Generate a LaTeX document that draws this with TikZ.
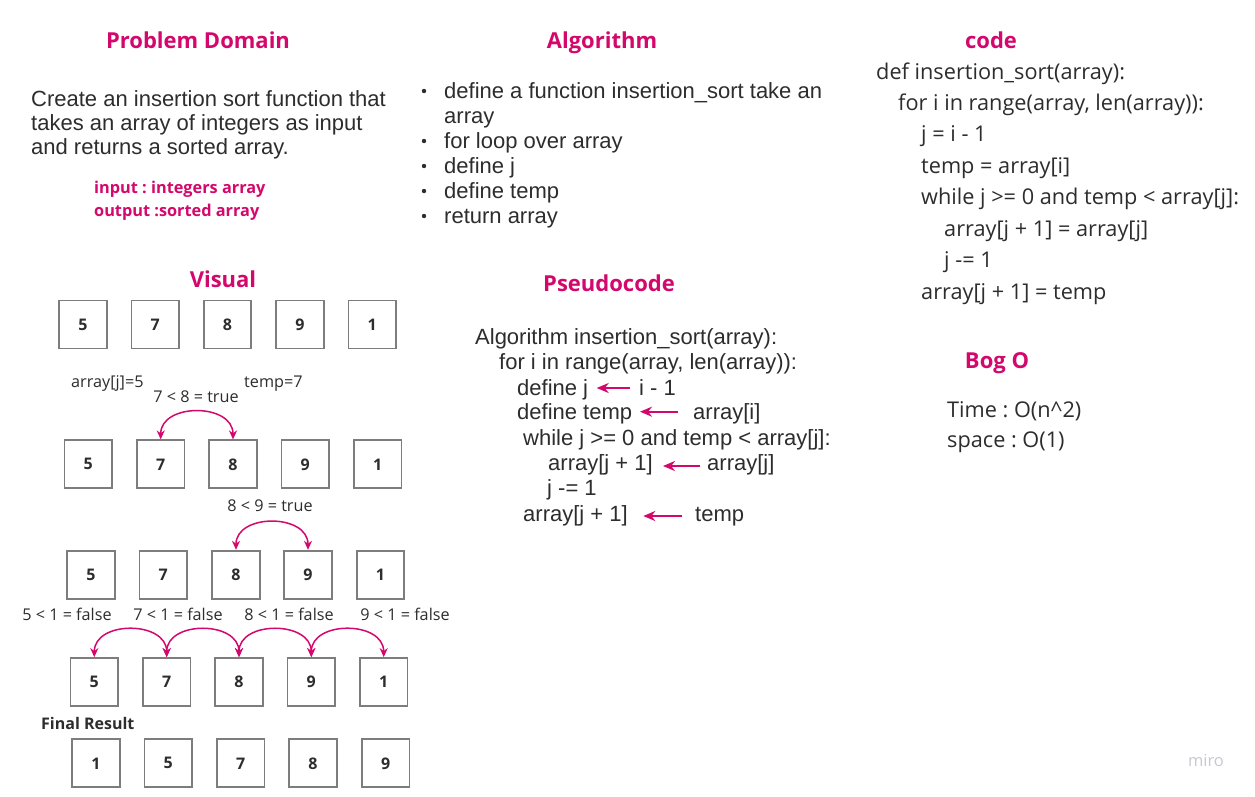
\documentclass[tikz,border=0pt]{standalone}
\usepackage{fontspec}
\setmainfont{Open Sans}
\newfontfamily\arialf{Liberation Sans}
\usetikzlibrary{arrows.meta}
\definecolor{mag}{RGB}{212,8,108}
\definecolor{txt}{RGB}{45,45,45}
\definecolor{boxg}{RGB}{125,125,125}
\definecolor{mirog}{RGB}{200,200,208}
\frenchspacing
\tikzset{
 head/.style={font=\fontsize{22}{26}\selectfont\bfseries, text=mag, inner sep=0, text height=17pt, text depth=3pt},
 subhead/.style={font=\fontsize{16.3}{19}\selectfont\bfseries\frenchspacing, text=mag, inner sep=0, anchor=west, text height=12pt, text depth=2pt},
 atext/.style={font=\arialf\fontsize{22}{26}\selectfont\frenchspacing, text=txt, anchor=west, inner sep=0, text height=16pt, text depth=2pt},
 ctext/.style={font=\fontsize{21.7}{26}\selectfont\frenchspacing, text=txt, anchor=west, inner sep=0, text height=16pt, text depth=2pt},
 vlab/.style={font=\fontsize{16.2}{19}\selectfont, text=txt, inner sep=0, text height=12pt, text depth=2pt},
 cell/.style={draw=boxg, line width=1.8pt, minimum width=47.5pt, minimum height=48pt, inner sep=0, font=\fontsize{16}{19}\selectfont\bfseries, text=txt},
 swaparc/.style={draw=mag, line width=1.5pt, {Stealth[length=9pt,width=8pt]}-{Stealth[length=9pt,width=8pt]}, out=90, in=90, looseness=1.3},
 assign/.style={draw=mag, line width=2pt, -{Stealth[length=12pt,width=10pt]}},
 bul/.style={circle, fill=txt, inner sep=0, minimum size=4.4pt}
}
\begin{document}
\begin{tikzpicture}[x=1pt,y=-1pt]
\useasboundingbox (0,0) rectangle (1255,796);
\fill[white] (0,0) rectangle (1255,796);

% ---------- Problem Domain ----------
\node[head] (hpd) at (198,41) {Problem Domain};
\node[atext] (pd1) at (31,99) {Create an insertion sort function that};
\node[atext] (pd2) at (31,123) {takes an array of integers as input};
\node[atext] (pd3) at (31,147) {and returns a sorted array.};
\node[subhead] (in) at (94,188) {input : integers array};
\node[subhead] (out) at (94,211) {output :sorted array};

% ---------- Algorithm ----------
\node[head] (halg) at (602,41) {Algorithm};
\node[bul] (b1) at (424,91) {};
\node[atext] (a1) at (444,91) {define a function insertion\_sort take an};
\node[atext] (a1b) at (444,116) {array};
\node[bul] (b2) at (424,141) {};
\node[atext] (a2) at (444,141) {for loop over array};
\node[bul] (b3) at (424,166) {};
\node[atext] (a3) at (444,166) {define j};
\node[bul] (b4) at (424,191) {};
\node[atext] (a4) at (444,191) {define temp};
\node[bul] (b5) at (424,216) {};
\node[atext] (a5) at (444,216) {return array};

% ---------- Pseudocode ----------
\node[head] (hps) at (609,284) {Pseudocode};
\node[atext] (p1) at (475,337) {Algorithm insertion\_sort(array):};
\node[atext] (p2) at (499,362) {for i in range(array, len(array)):};
\node[atext] (p3) at (517,388) {define j};
\node[atext] (p3r) at (639,388) {i - 1};
\node[atext] (p4) at (517,412) {define temp};
\node[atext] (p4r) at (693,412) {array[i]};
\node[atext] (p5) at (523,438) {while j >= 0 and temp < array[j]:};
\node[atext] (p6) at (548,463) {array[j + 1]};
\node[atext] (p6r) at (707,463) {array[j]};
\node[atext] (p7) at (547,488) {j -= 1};
\node[atext] (p8) at (523,514) {array[j + 1]};
\node[atext] (p8r) at (695,514) {temp};
\coordinate (t3) at (630,388);   \coordinate (h3) at (596.7,388);
\coordinate (t4) at (678,411.7); \coordinate (h4) at (640,411.7);
\coordinate (t6) at (700,466);   \coordinate (h6) at (663,466);
\coordinate (t8) at (681.7,516); \coordinate (h8) at (643.3,516);
\draw[assign] (t3) -- (h3);
\draw[assign] (t4) -- (h4);
\draw[assign] (t6) -- (h6);
\draw[assign] (t8) -- (h8);

% ---------- code ----------
\node[head] (hcode) at (991,41) {code};
\node[ctext] (c1) at (876,72) {def insertion\_sort(array):};
\node[ctext] (c2) at (898,103) {for i in range(array, len(array)):};
\node[ctext] (c3) at (921,134) {j = i - 1};
\node[ctext] (c4) at (921,166) {temp = array[i]};
\node[ctext] (c5) at (921,197) {while j >= 0 and temp < array[j]:};
\node[ctext] (c6) at (944,229) {array[j + 1] = array[j]};
\node[ctext] (c7) at (944,260) {j -= 1};
\node[ctext] (c8) at (921,292) {array[j + 1] = temp};

% ---------- Big O ----------
\node[head] (hbig) at (997,361) {Bog O};
\node[ctext] (t1) at (947,410) {Time : O(n\textasciicircum 2)};
\node[ctext] (t2) at (947,440) {space : O(1)};

% ---------- Visual ----------
\node[head] (hvis) at (223,280) {Visual};
% row 1
\node[cell] (r1a) at (83,324.5) {5};
\node[cell] (r1b) at (155.3,324.5) {7};
\node[cell] (r1c) at (227.5,324.5) {8};
\node[cell] (r1d) at (300,324.5) {9};
\node[cell] (r1e) at (372.3,324.5) {1};
\node[vlab, anchor=west] (laj) at (71,382) {array[j]=5};
\node[vlab, anchor=west] (ltemp) at (244,382) {temp=7};
\node[vlab] (l78) at (196,397) {7 < 8 = true};
% row 2
\node[cell] (r2a) at (88.2,464.3) {5};
\node[cell] (r2b) at (160.7,464.3) {7};
\node[cell] (r2c) at (233,464.3) {8};
\node[cell] (r2d) at (305.3,464.3) {9};
\node[cell] (r2e) at (377.7,464.3) {1};
\draw[swaparc] (r2b.north) to (r2c.north);
\node[vlab] (l89) at (270,506) {8 < 9 = true};
% row 3
\node[cell] (r3a) at (91,574.7) {5};
\node[cell] (r3b) at (163.3,574.7) {7};
\node[cell] (r3c) at (236,574.7) {8};
\node[cell] (r3d) at (308,574.7) {9};
\node[cell] (r3e) at (380.5,574.7) {1};
\draw[swaparc] (r3c.north) to (r3d.north);
\node[vlab] (l51) at (67,615) {5 < 1 = false};
\node[vlab] (l71) at (178,615) {7 < 1 = false};
\node[vlab] (l81) at (289,615) {8 < 1 = false};
\node[vlab] (l91) at (405,615) {9 < 1 = false};
% row 4
\node[cell] (r4a) at (94.3,682) {5};
\node[cell] (r4b) at (166.7,682) {7};
\node[cell] (r4c) at (239,682) {8};
\node[cell] (r4d) at (311.3,682) {9};
\node[cell] (r4e) at (383.7,682) {1};
\draw[swaparc] (r4a.north) to (r4b.north);
\draw[swaparc] (r4b.north) to (r4c.north);
\draw[swaparc] (r4c.north) to (r4d.north);
\draw[swaparc] (r4d.north) to (r4e.north);
% final
\node[vlab, font=\fontsize{16}{19}\selectfont\bfseries, anchor=west] (lfinal) at (41,724) {Final Result};
\node[cell] (r5a) at (96,763.3) {1};
\node[cell] (r5b) at (168.3,763.3) {5};
\node[cell] (r5c) at (240.7,763.3) {7};
\node[cell] (r5d) at (313,763.3) {8};
\node[cell] (r5e) at (385.7,763.3) {9};

% ---------- miro ----------
\node[font=\fontsize{16.5}{19}\selectfont, text=mirog, inner sep=0] (miro) at (1206,761) {miro};
\end{tikzpicture}
\end{document}
